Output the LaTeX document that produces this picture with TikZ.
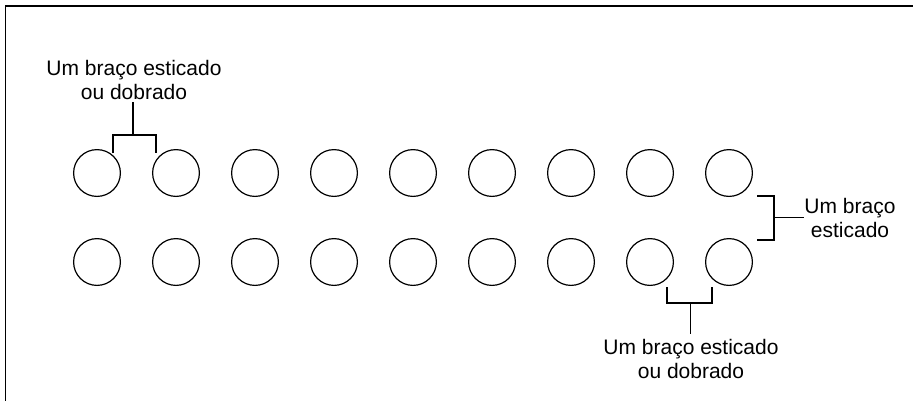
\documentclass[tikz,border=0pt]{standalone}
\usepackage{fontspec}
\setmainfont{Liberation Sans}
\begin{document}
\begin{tikzpicture}[x=1pt,y=-1pt,
  ball/.style={draw,circle,minimum size=46.8pt,inner sep=0pt,line width=1.2pt},
  lbl/.style={align=center,inner sep=0pt,font=\fontsize{21}{24}\selectfont},
  brk/.style={line width=1.2pt}]
\useasboundingbox (0,0) rectangle (913,400);
\draw[line width=1.7pt] (5.5,401) -- (5.5,6) -- (914,6);
\foreach \i in {1,...,9}{
  \node[ball] (a\i) at ({97+79*(\i-1)},173) {};
  \node[ball] (b\i) at ({97+79*(\i-1)},262) {};
}
% top-left
\node[lbl,anchor=north] (t1) at (134,60) {Um braço esticado\\ou dobrado};
\coordinate (p1) at (113,153);
\coordinate (p2) at (113,135);
\coordinate (p3) at (156,135);
\coordinate (p4) at (156,153);
\coordinate (pm) at (133,135);
\draw[brk] (p1) -- (p2) -- (p3) -- (p4);
\draw[brk,shorten >=2pt] (pm) -- (pm |- t1.south);
% right
\node[lbl,anchor=north] (t2) at (850,198.5) {Um braço\\esticado};
\coordinate (q1) at (757,196);
\coordinate (q2) at (774,196);
\coordinate (q3) at (774,240);
\coordinate (q4) at (757,240);
\coordinate (qm) at (774,217.5);
\draw[brk] (q1) -- (q2) -- (q3) -- (q4);
\draw[brk] (qm) -- (t2.west |- qm);
% bottom
\node[lbl,anchor=north] (t3) at (691,339) {Um braço esticado\\ou dobrado};
\coordinate (r1) at (667,287);
\coordinate (r2) at (667,303);
\coordinate (r3) at (712,303);
\coordinate (r4) at (712,287);
\coordinate (rm) at (690.5,303);
\draw[brk] (r1) -- (r2) -- (r3) -- (r4);
\draw[brk,shorten >=5pt] (rm) -- (rm |- t3.north);
\end{tikzpicture}
\end{document}
